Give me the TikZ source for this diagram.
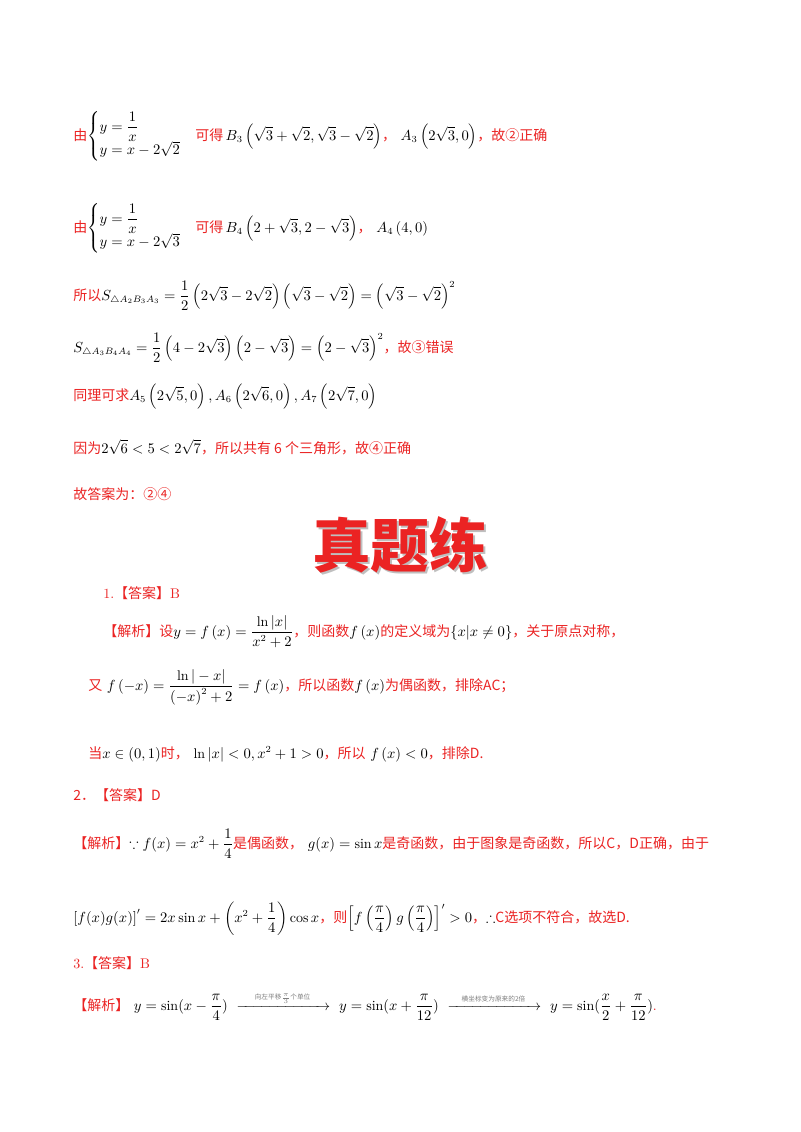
\documentclass[tikz,border=0pt]{standalone}
\usepackage{amsmath,amssymb}
\usepackage{fontspec}
\newfontfamily\cjk{Noto Sans CJK SC}
\definecolor{rd}{RGB}{235,35,35}
\newcommand{\rc}[1]{\textcolor{rd}{\cjk #1}}
\newcommand{\arrlab}[1]{\makebox[64pt]{\cjk\fontsize{5}{6}\selectfont\color{gray}#1}}
\begin{document}
\begin{tikzpicture}[x=0.75pt,y=-0.75pt,
 ln/.style={anchor=base west,inner sep=0pt,font=\fontsize{10.5}{12}\selectfont}]
\fill[white] (0,0) rectangle (800,1132);
\node[ln] (l1) at (73,140) {\rc{由}$\begin{cases}y=\dfrac1x\\ y=x-2\sqrt2\end{cases}$\rc{可得}\,$B_3\left(\sqrt3+\sqrt2,\sqrt3-\sqrt2\right)$\rc{，}\ $A_3\left(2\sqrt3,0\right)$\rc{，故②正确}};
\node[ln] (l2) at (73,232) {\rc{由}$\begin{cases}y=\dfrac1x\\ y=x-2\sqrt3\end{cases}$\rc{可得}\,$B_4\left(2+\sqrt3,2-\sqrt3\right)$\rc{，}\ $A_4\left(4,0\right)$};
\node[ln] (l3) at (73,300) {\rc{所以}$S_{\triangle A_2B_3A_3}=\dfrac12\left(2\sqrt3-2\sqrt2\right)\left(\sqrt3-\sqrt2\right)=\left(\sqrt3-\sqrt2\right)^2$};
\node[ln] (l4) at (73,352) {$S_{\triangle A_3B_4A_4}=\dfrac12\left(4-2\sqrt3\right)\left(2-\sqrt3\right)=\left(2-\sqrt3\right)^2$\rc{，故③错误}};
\node[ln] (l5) at (73,400) {\rc{同理可求}$A_5\left(2\sqrt5,0\right),A_6\left(2\sqrt6,0\right),A_7\left(2\sqrt7,0\right)$};
\node[ln] (l6) at (73,453) {\rc{因为}$2\sqrt6<5<2\sqrt7$\rc{，所以共有 6 个三角形，故④正确}};
\node[ln] (l7) at (73,499) {\rc{故答案为：②④}};
\node[font=\cjk\bfseries\fontsize{44}{48}\selectfont,text=gray!50] at (402,547) {真题练};
\node[font=\cjk\bfseries\fontsize{44}{48}\selectfont,text=rd] (title) at (400,545) {真题练};
\node[ln] (a1) at (103,598) {\textcolor{rd}{1.}\rc{【答案】}\textcolor{rd}{B}};
\node[ln] (a1b) at (103,636) {\rc{【解析】设}$y=f\left(x\right)=\dfrac{\ln|x|}{x^2+2}$\rc{，则函数}$f\left(x\right)$\rc{的定义域为}$\left\{x\middle|x\neq0\right\}$\rc{，关于原点对称，}};
\node[ln] (a1c) at (88,690) {\rc{又}\ $f\left(-x\right)=\dfrac{\ln|-x|}{\left(-x\right)^2+2}=f\left(x\right)$\rc{，所以函数}$f\left(x\right)$\rc{为偶函数，排除AC；}};
\node[ln] (a1d) at (88,758) {\rc{当}$x\in\left(0,1\right)$\rc{时，}\ $\ln|x|<0,x^2+1>0$\rc{，所以}\ $f\left(x\right)<0$\rc{，排除D.}};
\node[ln] (a2) at (73,800) {\rc{2．【答案】D}};
\node[ln] (a2b) at (73,848) {\rc{【解析】}$\because f(x)=x^2+\dfrac14$\rc{是偶函数，}\ $g(x)=\sin x$\rc{是奇函数，由于图象是奇函数，所以C，D正确，由于}};
\node[ln] (a2c) at (73,922) {$\left[f(x)g(x)\right]'=2x\sin x+\left(x^2+\dfrac14\right)\cos x$\rc{，则}$\left[f\left(\dfrac\pi4\right)g\left(\dfrac\pi4\right)\right]'>0$\rc{，}$\therefore$\rc{C选项不符合，故选D.}};
\node[ln] (a3) at (73,968) {\textcolor{rd}{3.}\rc{【答案】}\textcolor{rd}{B}};
\node[ln] (a3b) at (73,1010) {\rc{【解析】}\ $y=\sin(x-\dfrac\pi4)\ \xrightarrow{\arrlab{向左平移$\frac\pi3$个单位}}\ y=\sin(x+\dfrac\pi{12})\ \xrightarrow{\arrlab{横坐标变为原来的2倍}}\ y=\sin(\dfrac x2+\dfrac\pi{12})$\textcolor{rd}{.}};
\end{tikzpicture}
\end{document}
